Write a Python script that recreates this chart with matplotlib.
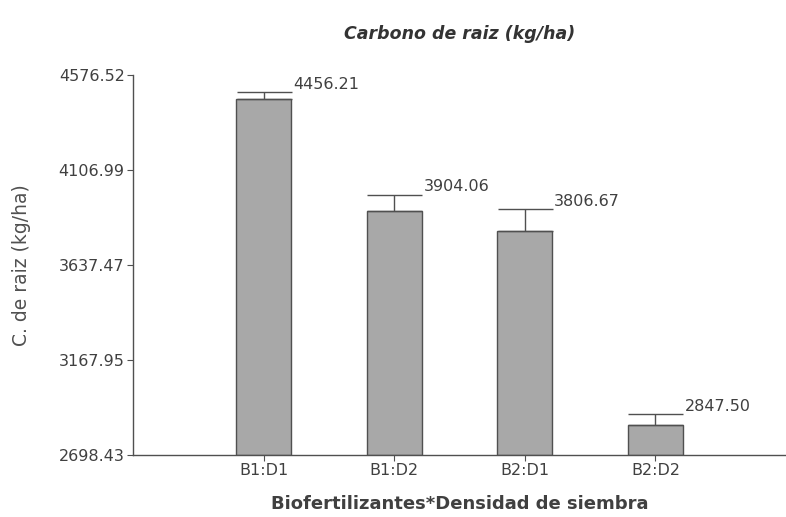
import matplotlib
matplotlib.use("Agg")
import matplotlib.pyplot as plt
import numpy as np

categories = ["B1:D1", "B1:D2", "B2:D1", "B2:D2"]
means = [4456.21, 3904.06, 3806.67, 2847.50]
errors = [35, 79, 107, 52]
yticks = [2698.43, 3167.95, 3637.47, 4106.99, 4576.52]

plt.rcParams['font.family'] = ['DejaVu Sans']
fig = plt.figure(figsize=(7.86, 5.17), dpi=100)
ax = fig.add_axes([133/786, 1-455/517, 1-133/786, (455-75)/517])

x = np.arange(1, len(categories) + 1)
edge = "#505050"
ax.bar(x, np.array(means) - yticks[0], bottom=yticks[0], width=0.42,
       color="#a8a8a8", edgecolor=edge, linewidth=1.0, zorder=2)
ax.errorbar(x, means, yerr=[np.zeros(len(errors)), errors], fmt='none',
            ecolor=edge, elinewidth=1.0, capsize=19.8, capthick=1.0, zorder=3)

for xi, m, e in zip(x, means, errors):
    ax.text(xi + 0.225, m + e + 3, f"{m:.2f}", ha='left', va='bottom',
            fontsize=11.5, color="#404040")

ax.set_xlim(0, 5)
ax.set_ylim(yticks[0], yticks[-1])
ax.set_yticks(yticks)
ax.set_yticklabels([f"{t:.2f}" for t in yticks])
ax.set_xticks(x)
ax.set_xticklabels(categories)
for s in ['top', 'right']:
    ax.spines[s].set_visible(False)
for s in ['left', 'bottom']:
    ax.spines[s].set_color(edge)
    ax.spines[s].set_linewidth(1.0)
ax.tick_params(axis='both', direction='out', length=4, color=edge,
               labelsize=11.5, labelcolor="#404040", pad=2)

ax.set_title("Carbono de raiz (kg/ha)", fontsize=12.5, fontweight='bold',
             fontstyle='italic', color="#333333", pad=26)
ax.set_xlabel("Biofertilizantes*Densidad de siembra", fontsize=13,
              fontweight='bold', color="#404040", labelpad=12)
ax.set_ylabel("C. de raiz (kg/ha)", fontsize=13.5, color="#505050", labelpad=20)

fig.savefig("out.png", dpi=100)
